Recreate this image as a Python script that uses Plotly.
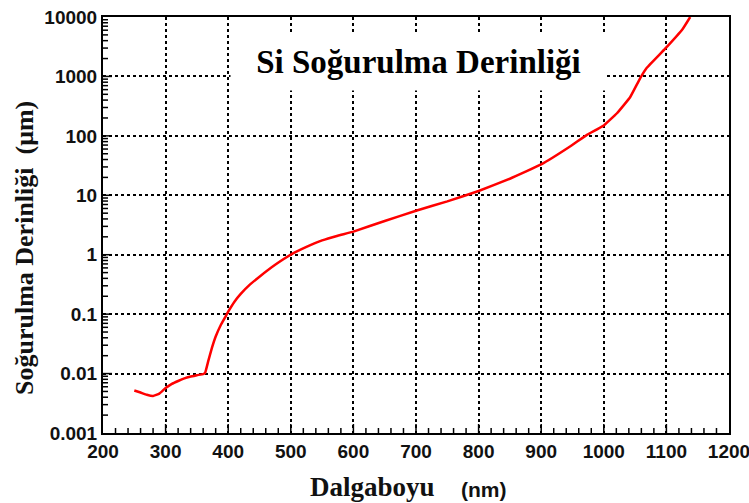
import math
import plotly.graph_objects as go

# Absorption depth of silicon vs. wavelength
wavelength_nm = [250, 260, 270, 280, 290, 300, 310, 320, 330, 340, 350, 360, 363,
                 368, 374, 380, 388, 395, 400, 410, 420, 435, 450, 475, 500,
                 525, 550, 575, 600, 650, 700, 750, 800, 850, 900, 946, 973,
                 1000, 1021, 1042, 1058, 1069, 1098, 1126, 1138]
depth_um = [0.0052, 0.0048, 0.0044, 0.0042, 0.0046, 0.0057, 0.0067, 0.0075, 0.0083,
            0.0089, 0.0094, 0.0098, 0.0102, 0.016, 0.027, 0.042, 0.065, 0.088, 0.11,
            0.162, 0.219, 0.316, 0.427, 0.676, 1.0, 1.35, 1.74, 2.09, 2.45, 3.7, 5.5,
            7.9, 11.8, 19.0, 33.0, 66.0, 104.0, 150.0, 240.0, 447.0, 930.0, 1410.0,
            2930.0, 6300.0, 10000.0]

x_major = [200, 300, 400, 500, 600, 700, 800, 900, 1000, 1100, 1200]
x_minor = [v for v in range(200, 1201, 20) if v % 100]
y_major = [0.001, 0.01, 0.1, 1, 10, 100, 1000, 10000]
y_minor = [m * d for d in y_major[:-1] for m in range(2, 10)]

title_text = "Si Soğurulma Derinliği"
x_label = "Dalgaboyu"
x_unit = "(nm)"
y_label = "Soğurulma Derinliği  (μm)"

serif = "Liberation Serif, Times New Roman, serif"
sans = "Liberation Sans, Arial, sans-serif"

X_RANGE = [200, 1200]
Y_RANGE = [-3, 4]
PLOT_W, PLOT_H = 626, 416

fig = go.Figure()
fig.add_trace(go.Scatter(
    x=wavelength_nm, y=depth_um, mode="lines",
    line=dict(color="#ff0000", width=2.5, shape="spline", smoothing=0.3),
    showlegend=False, hoverinfo="skip",
))

axis_common = dict(
    showline=True, linecolor="#000000", linewidth=2, mirror=True, ticks="",
    showgrid=True, gridcolor="#000000", gridwidth=1.5, griddash="dot",
    zeroline=False, ticklabeloverflow="allow", automargin=False,
    tickfont=dict(family=sans, size=19, color="#111111", weight="bold"),
)

fig.update_xaxes(range=X_RANGE, tickmode="array", tickvals=x_major, **axis_common)
fig.update_yaxes(type="log", range=Y_RANGE, tickmode="array", tickvals=y_major,
                 tickformat="~g", ticksuffix="  ", **axis_common)

# inward tick marks along the bottom and left axes
tick_line = dict(color="#000000", width=1.5)
for v, length in [(v, 9) for v in x_major[1:-1]] + [(v, 5) for v in x_minor]:
    fig.add_shape(type="line", xref="x", yref="paper", x0=v, x1=v,
                  y0=0, y1=length / PLOT_H, line=tick_line, layer="above")
for v, length in [(v, 9) for v in y_major[1:-1]] + [(v, 5) for v in y_minor]:
    frac = (math.log10(v) - Y_RANGE[0]) / (Y_RANGE[1] - Y_RANGE[0])
    fig.add_shape(type="line", xref="paper", yref="paper", x0=0,
                  x1=length / PLOT_W, y0=frac, y1=frac, line=tick_line,
                  layer="above")

fig.add_annotation(
    text=f"<b>{title_text}</b>", xref="paper", yref="paper",
    x=(418 - 103) / PLOT_W, y=(433 - 62) / PLOT_H, xanchor="center",
    yanchor="middle", showarrow=False, bgcolor="#ffffff",
    width=373, height=55, font=dict(family=serif, size=33, color="#000000"),
)
fig.add_annotation(
    text=f"<b>{x_label}</b>", xref="paper", yref="paper",
    x=(372 - 103) / PLOT_W, y=(433 - 487) / PLOT_H, xanchor="center",
    yanchor="middle", showarrow=False,
    font=dict(family=serif, size=27, color="#111111"),
)
fig.add_annotation(
    text=f"<b>{x_unit}</b>", xref="paper", yref="paper",
    x=(484 - 103) / PLOT_W, y=(433 - 489) / PLOT_H, xanchor="center",
    yanchor="middle", showarrow=False,
    font=dict(family=sans, size=21, color="#111111"),
)
fig.add_annotation(
    text=f"<b>{y_label}</b>", xref="paper", yref="paper",
    x=(24 - 103) / PLOT_W, y=(433 - 248) / PLOT_H, xanchor="center",
    yanchor="middle", showarrow=False, textangle=-90,
    font=dict(family=serif, size=26, color="#111111"),
)

fig.update_layout(
    width=749, height=503,
    margin=dict(l=103, r=20, t=17, b=70),
    paper_bgcolor="#ffffff", plot_bgcolor="#ffffff",
)

fig.write_html("out.html")
